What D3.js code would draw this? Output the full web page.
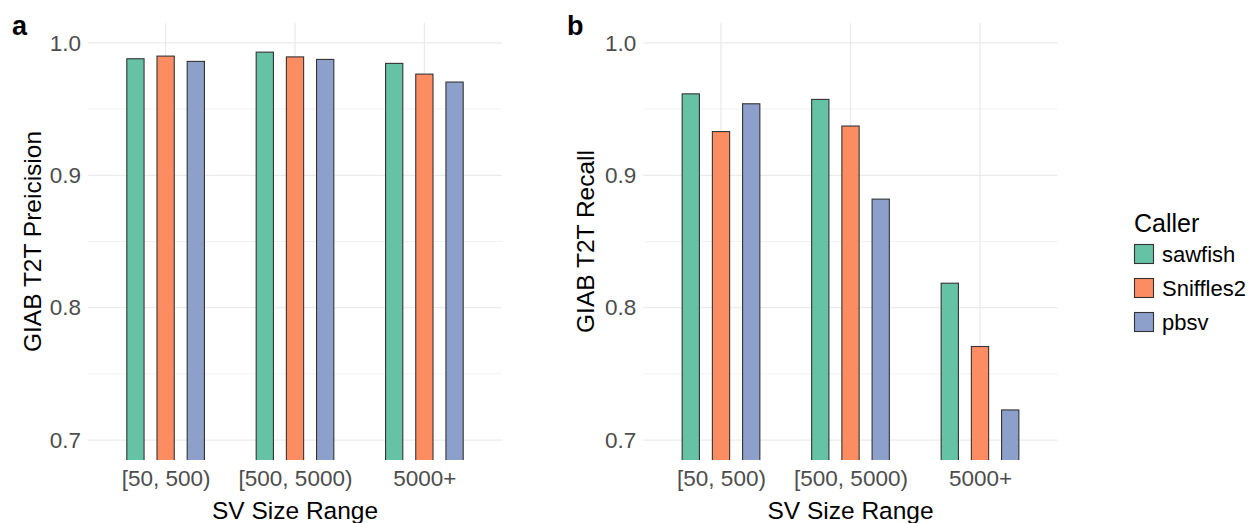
<!DOCTYPE html>
<html>
<head>
<meta charset="utf-8">
<script src="https://cdn.jsdelivr.net/npm/d3@7"></script>
<style>
  body { margin: 0; background: #fff; }
  svg { font-family: "Liberation Sans", Arial, sans-serif; }
</style>
</head>
<body>
<div id="chart"></div>
<script>
// Categories and callers.
var categories = ["[50, 500)", "[500, 5000)", "5000+"];
var callers = ["sawfish", "Sniffles2", "pbsv"];
var colors = ["#66C2A5", "#FC8D62", "#8DA0CB"];

// Precision per caller, one value per size range.
var precSawfish = [0.988, 0.993, 0.9845];
var precSniffles = [0.990, 0.9894, 0.9764];
var precPbsv = [0.986, 0.9875, 0.9704];

// Recall per caller.
var recSawfish = [0.9615, 0.9573, 0.8185];
var recSniffles = [0.933, 0.9372, 0.7707];
var recPbsv = [0.954, 0.882, 0.7228];

var yTicks = [0.7, 0.8, 0.9, 1.0];
var yMinor = [0.75, 0.85, 0.95];

var width = 1250;
var height = 523;
var top_ = 23;
var bottom = 460;

var svg = d3.select("#chart")
    .append("svg")
    .attr("width", width)
    .attr("height", height);

// y scale shared by both panels (ylim 0.7..1.0 with 5% expansion).
var y = d3.scaleLinear()
    .domain([0.685, 1.015])
    .range([bottom, top_]);

function drawPanel(opts) {
    var g = svg.append("g");
    var x = d3.scalePoint()
        .domain(categories)
        .range([opts.left, opts.right])
        .padding(0.6);
    var step = x.step();
    // dodge width 0.7, bar width 0.4/3
    var dodge = d3.scalePoint()
        .domain(callers)
        .range([-0.7 / 3 * step, 0.7 / 3 * step]);
    var barW = 0.4 / 3 * step;

    // clip path for the panel
    g.append("clipPath")
        .attr("id", opts.id + "-clip")
        .append("rect")
        .attr("x", opts.left)
        .attr("y", top_)
        .attr("width", opts.right - opts.left)
        .attr("height", bottom - top_);

    // minor grid
    g.selectAll(".minor")
        .data(yMinor)
        .enter()
        .append("line")
        .attr("x1", opts.left).attr("x2", opts.right)
        .attr("y1", d => y(d)).attr("y2", d => y(d))
        .attr("stroke", "#F2F2F2")
        .attr("stroke-width", 1);

    // major grid
    g.selectAll(".major")
        .data(yTicks)
        .enter()
        .append("line")
        .attr("x1", opts.left).attr("x2", opts.right)
        .attr("y1", d => y(d)).attr("y2", d => y(d))
        .attr("stroke", "#EBEBEB")
        .attr("stroke-width", 1.3);

    g.selectAll(".vgrid")
        .data(categories)
        .enter()
        .append("line")
        .attr("x1", d => x(d)).attr("x2", d => x(d))
        .attr("y1", top_).attr("y2", bottom)
        .attr("stroke", "#EBEBEB")
        .attr("stroke-width", 1.3);

    // bars
    var rows = [];
    callers.forEach(function(c, ci) {
        opts.series[ci].forEach(function(v, i) {
            rows.push({ cat: categories[i], caller: c, value: v, color: colors[ci] });
        });
    });

    g.append("g")
        .attr("clip-path", "url(#" + opts.id + "-clip)")
        .selectAll("rect")
        .data(rows)
        .enter()
        .append("rect")
        .attr("x", d => x(d.cat) + dodge(d.caller) - barW / 2)
        .attr("width", barW)
        .attr("y", d => y(d.value))
        .attr("height", d => bottom + 5 - y(d.value))
        .attr("fill", d => d.color)
        .attr("stroke", "#333333")
        .attr("stroke-width", 1.1);

    // y axis labels
    var yAxis = g.append("g")
        .attr("transform", "translate(" + opts.left + ",0)")
        .call(d3.axisLeft(y).tickValues(yTicks).tickFormat(d3.format(".1f")).tickSize(0).tickPadding(7));
    yAxis.select(".domain").remove();
    yAxis.selectAll("text")
        .attr("fill", "#4D4D4D")
        .style("font-size", "22.5px")
        .style("font-family", "'Liberation Sans', Arial, sans-serif");

    // x axis labels
    var xAxis = g.append("g")
        .attr("transform", "translate(0," + bottom + ")")
        .call(d3.axisBottom(x).tickSize(0).tickPadding(10));
    xAxis.select(".domain").remove();
    xAxis.selectAll("text")
        .attr("fill", "#4D4D4D")
        .style("font-size", "22.5px")
        .style("font-family", "'Liberation Sans', Arial, sans-serif");

    // x title
    g.append("text")
        .attr("x", (opts.left + opts.right) / 2)
        .attr("y", 519)
        .attr("text-anchor", "middle")
        .style("font-size", "24.5px")
        .text("SV Size Range");

    // y title
    g.append("text")
        .attr("transform", "translate(" + opts.titleX + "," + ((top_ + bottom) / 2) + ") rotate(-90)")
        .attr("text-anchor", "middle")
        .attr("dy", "0.35em")
        .style("font-size", "24.5px")
        .text(opts.yTitle);

    // panel tag
    g.append("text")
        .attr("x", opts.tagX)
        .attr("y", 35)
        .style("font-size", "27px")
        .style("font-weight", "bold")
        .text(opts.tag);
}

drawPanel({
    id: "pa", left: 88, right: 502, titleX: 32, tagX: 12, tag: "a",
    yTitle: "GIAB T2T Preicision",
    series: [precSawfish, precSniffles, precPbsv]
});

drawPanel({
    id: "pb", left: 643.3, right: 1057.7, titleX: 585, tagX: 567, tag: "b",
    yTitle: "GIAB T2T Recall",
    series: [recSawfish, recSniffles, recPbsv]
});

// Legend
var legend = svg.append("g").attr("transform", "translate(1134,0)");
legend.append("text")
    .attr("x", 0)
    .attr("y", 232)
    .style("font-size", "25px")
    .text("Caller");

var legendRow = d3.scalePoint().domain(callers).range([254, 322]);
var keyItems = legend.selectAll(".key")
    .data(callers)
    .enter()
    .append("g");
keyItems.append("rect")
    .attr("x", 0.5)
    .attr("y", d => legendRow(d) - 9.5)
    .attr("width", 19)
    .attr("height", 19)
    .attr("fill", (d, i) => colors[i])
    .attr("stroke", "#333333")
    .attr("stroke-width", 1.1);
keyItems.append("text")
    .attr("x", 28)
    .attr("y", d => legendRow(d))
    .attr("dy", "0.35em")
    .style("font-size", "22px")
    .text(d => d);
</script>
</body>
</html>
